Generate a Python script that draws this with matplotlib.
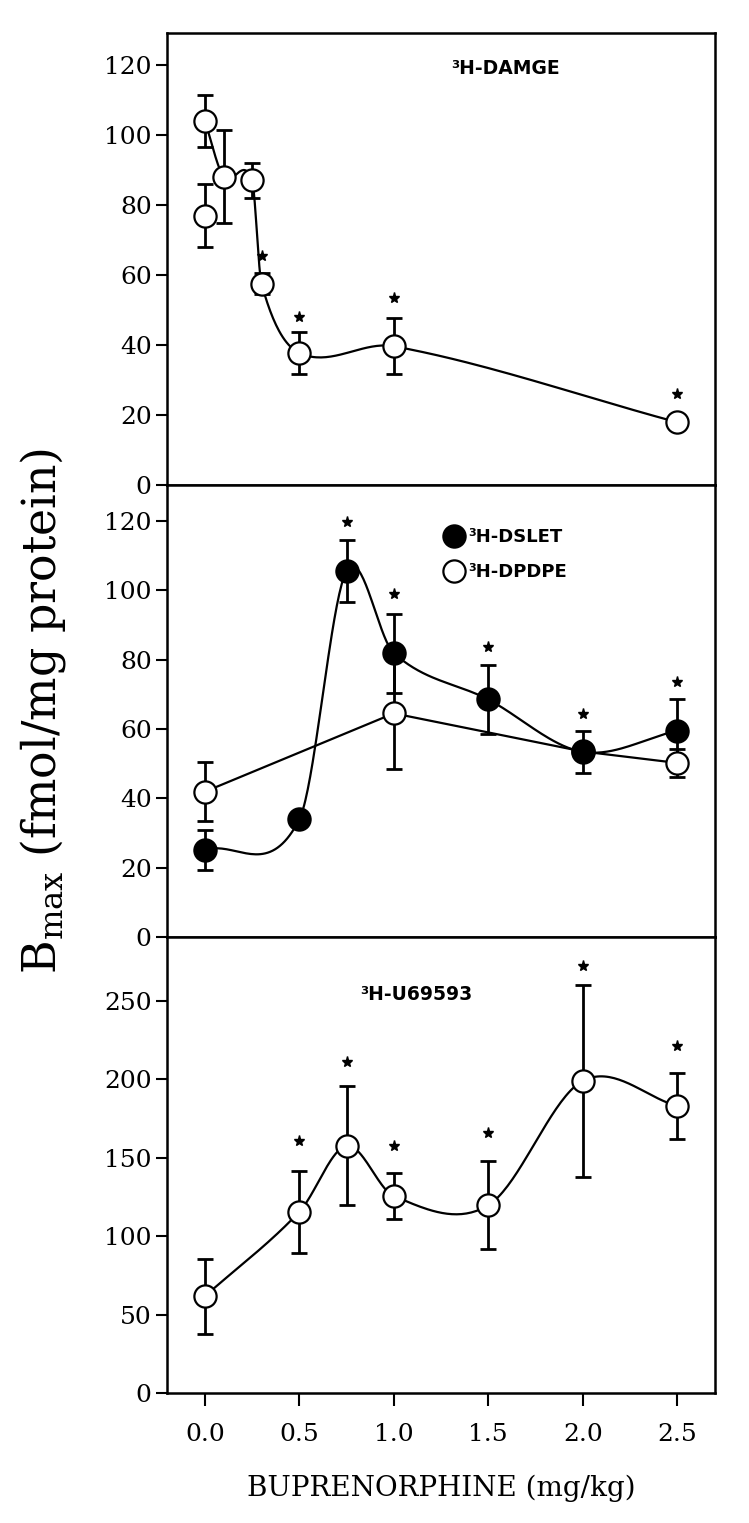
import numpy as np
import matplotlib
matplotlib.use('Agg')
import matplotlib.pyplot as plt
from matplotlib.lines import Line2D

plt.rcParams['font.family'] = 'DejaVu Serif'
plt.rcParams['mathtext.fontset'] = 'dejavuserif'

# ---- data ----
# top panel: 3H-DAMGE
damge_x = [0.0, 0.1, 0.25, 0.3, 0.5, 1.0, 2.5]
damge_y = [104, 88, 87, 57.5, 37.7, 39.6, 17.9]
damge_err = [7.5, 13.3, 5, 3, 6, 8, 2]
damge_x0 = [0.0]          # second control value at dose 0
damge_y0 = [76.9]
damge_err0 = [9]
damge_star_x = [0.3, 0.5, 1.0, 2.5]
damge_star_y = [65.4, 48, 53.3, 25.9]

# middle panel: 3H-DSLET (filled) and 3H-DPDPE (open)
dslet_x = [0.0, 0.5, 0.75, 1.0, 1.5, 2.0, 2.5]
dslet_y = [25.1, 33.9, 105.6, 81.9, 68.5, 53.4, 59.5]
dslet_err = [5.8, 0, 9, 11.4, 10, 6, 9]
dpdpe_x = [0.0, 1.0, 2.0, 2.5]
dpdpe_y = [41.9, 64.5, 53.5, 50.2]
dpdpe_err = [8.5, 16, 0, 4]
delta_star_x = [0.75, 1.0, 1.5, 2.0, 2.5]
delta_star_y = [119.6, 99, 83.7, 64.2, 73.6]

# bottom panel: 3H-U69593
u69_x = [0.0, 0.5, 0.75, 1.0, 1.5, 2.0, 2.5]
u69_y = [61.6, 115.5, 157.6, 125.6, 119.7, 199, 183]
u69_err = [24, 26, 38, 14.6, 28, 61, 21]
u69_star_x = [0.5, 0.75, 1.0, 1.5, 2.0, 2.5]
u69_star_y = [160.7, 211, 157.6, 166, 272, 221]

xticks = [0.0, 0.5, 1.0, 1.5, 2.0, 2.5]
xticklabels = ['0.0', '0.5', '1.0', '1.5', '2.0', '2.5']


def smooth(x, y, n=40):
    # hermite curve through the points, finite-difference slopes
    x = np.asarray(x, float)
    y = np.asarray(y, float)
    m = np.zeros_like(y)
    m[0] = (y[1] - y[0]) / (x[1] - x[0])
    m[-1] = (y[-1] - y[-2]) / (x[-1] - x[-2])
    m[1:-1] = (y[2:] - y[:-2]) / (x[2:] - x[:-2])
    xs, ys = [], []
    for i in range(len(x) - 1):
        h = x[i + 1] - x[i]
        t = np.linspace(0, 1, n)
        h00 = 2 * t**3 - 3 * t**2 + 1
        h10 = t**3 - 2 * t**2 + t
        h01 = -2 * t**3 + 3 * t**2
        h11 = t**3 - t**2
        xs.append(x[i] + h * t)
        ys.append(h00 * y[i] + h10 * h * m[i] + h01 * y[i + 1] + h11 * h * m[i + 1])
    return np.concatenate(xs), np.concatenate(ys)


fig = plt.figure(figsize=(7.49, 15.23), dpi=100)
L, W = 0.223, 0.7316
ax1 = fig.add_axes([L, 0.6816, W, 0.2968])
ax2 = fig.add_axes([L, 0.3848, W, 0.2968])
ax3 = fig.add_axes([L, 0.0854, W, 0.2994])

ms = 16
ebkw = dict(ecolor='black', elinewidth=2.0, capsize=5.5, capthick=2.0, ls='none')
open_kw = dict(marker='o', ms=ms, mfc='white', mec='black', mew=1.6)
fill_kw = dict(marker='o', ms=ms, mfc='black', mec='black', mew=1.6)
star_kw = dict(marker='*', ms=8, color='black', ls='none')
lab_font = dict(family='DejaVu Sans', fontweight='bold', fontsize=13.5)

# --- top ---
sx, sy = smooth(damge_x, damge_y)
ax1.plot(sx, sy, color='black', lw=1.6, zorder=2)
ax1.errorbar(damge_x, damge_y, yerr=damge_err, **ebkw, zorder=3)
ax1.errorbar(damge_x0, damge_y0, yerr=damge_err0, **ebkw, zorder=3)
ax1.plot(damge_x, damge_y, ls='none', **open_kw, zorder=4)
ax1.plot(damge_x0, damge_y0, ls='none', **open_kw, zorder=4)
ax1.plot(damge_star_x, damge_star_y, **star_kw)
ax1.text(1.59, 119, '³H-DAMGE', ha='center', va='center', **lab_font)
ax1.set_ylim(0, 129.1)
ax1.set_yticks(np.arange(0, 121, 20))

# --- middle ---
sx, sy = smooth(dslet_x, dslet_y)
ax2.plot(sx, sy, color='black', lw=1.6, zorder=2)
ax2.plot(dpdpe_x, dpdpe_y, color='black', lw=1.6, zorder=2)
ax2.errorbar(dpdpe_x, dpdpe_y, yerr=dpdpe_err, **ebkw, zorder=3)
ax2.errorbar(dslet_x, dslet_y, yerr=dslet_err, **ebkw, zorder=3)
ax2.plot(dpdpe_x, dpdpe_y, ls='none', **open_kw, zorder=4)
ax2.plot(dslet_x, dslet_y, ls='none', **fill_kw, zorder=5)
ax2.plot(delta_star_x, delta_star_y, **star_kw)
handles = [Line2D([], [], ls='none', **fill_kw), Line2D([], [], ls='none', **open_kw)]
leg = ax2.legend(handles, ['³H-DSLET', '³H-DPDPE'], loc='upper left',
                 bbox_to_anchor=(0.49, 0.925), frameon=False, handlelength=1.0,
                 handletextpad=0.3, labelspacing=0.95, borderpad=0,
                 prop=dict(family='DejaVu Sans', weight='bold', size=13))
ax2.set_ylim(0, 130.4)
ax2.set_yticks(np.arange(0, 121, 20))

# --- bottom ---
sx, sy = smooth(u69_x, u69_y)
ax3.plot(sx, sy, color='black', lw=1.6, zorder=2)
ax3.errorbar(u69_x, u69_y, yerr=u69_err, **ebkw, zorder=3)
ax3.plot(u69_x, u69_y, ls='none', **open_kw, zorder=4)
ax3.plot(u69_star_x, u69_star_y, **star_kw)
ax3.text(1.12, 254, '³H-U69593', ha='center', va='center', **lab_font)
ax3.set_ylim(0, 290.8)
ax3.set_yticks(np.arange(0, 251, 50))

for ax in (ax1, ax2, ax3):
    ax.set_xlim(-0.2, 2.7)
    ax.set_xticks(xticks)
    for s in ax.spines.values():
        s.set_linewidth(1.8)
    ax.tick_params(axis='y', direction='out', length=8, width=1.5,
                   labelsize=18, pad=3)
    ax.tick_params(axis='x', direction='out', length=9, width=1.5,
                   labelsize=18, pad=13)
    ax.tick_params(top=False, right=False)
ax1.set_xticklabels([])
ax2.set_xticklabels([])
ax3.set_xticklabels(xticklabels)
ax3.set_xlabel('BUPRENORPHINE (mg/kg)', fontsize=20, labelpad=20)

fig.text(0.058, 1 - 711 / 1523, r'B$_{\mathrm{max}}$ (fmol/mg protein)',
         rotation=90, ha='center', va='center', fontsize=33)

fig.savefig('out.png', dpi=100, facecolor='white')
